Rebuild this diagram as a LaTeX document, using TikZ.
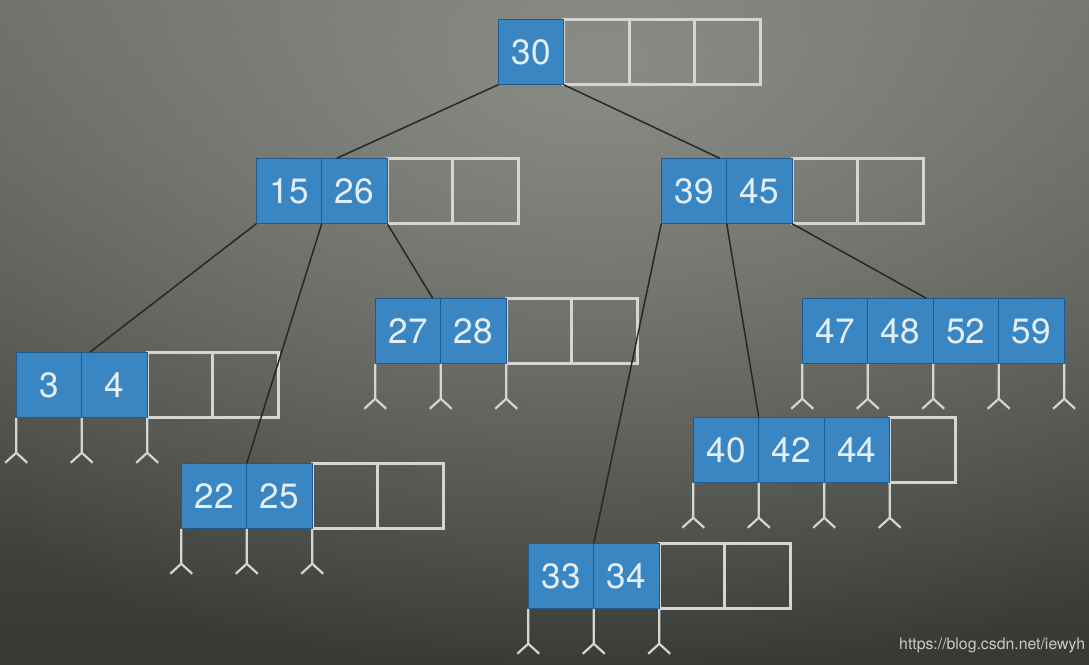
\documentclass[tikz,border=0pt]{standalone}
\usepackage{fontspec}
\setmainfont{TeX Gyre Heros}
\usetikzlibrary{positioning,calc,backgrounds,fadings}
\definecolor{keyblue}{HTML}{3A86C2}
\definecolor{keyedge}{HTML}{1E5B8C}
\definecolor{numwhite}{HTML}{E4EEF6}
\definecolor{slotgray}{HTML}{D6D6D0}
\definecolor{linkgray}{HTML}{262824}
\definecolor{bgtop}{HTML}{60635D}
\definecolor{bgbottom}{HTML}{363934}
\definecolor{glow}{HTML}{8A8C86}
\definecolor{wmgray}{HTML}{CACACA}
\tikzfading[name=glowfade, inner color=transparent!0, outer color=transparent!100]
\tikzset{
  key/.style={fill=keyblue, draw=keyedge, line width=0.7pt, minimum size=1.31cm,
    inner sep=0pt, outer sep=0pt, text=numwhite, font=\fontsize{20}{20}\selectfont},
  slot/.style={draw=slotgray, line width=1.5pt, minimum size=1.31cm, inner sep=0pt, outer sep=0pt},
  link/.style={draw=linkgray, line width=0.85pt},
  nil/.pic={\draw[slotgray, line width=1.25pt] (0,0) -- (0,35) -- (-11,45) (0,35) -- (11,45);}
}
\begin{document}
\begin{tikzpicture}[x=0.02cm, y=-0.02cm]
  \useasboundingbox (0,0) rectangle (1089,664);
  % keys
  \node[key] (r1) at (531,52) {30};
  \node[key] (a1) at (289,191) {15};
  \node[key, right=0pt of a1] (a2) {26};
  \node[key] (b1) at (694,191) {39};
  \node[key, right=0pt of b1] (b2) {45};
  \node[key] (c1) at (49,385) {3};
  \node[key, right=0pt of c1] (c2) {4};
  \node[key] (d1) at (408,331) {27};
  \node[key, right=0pt of d1] (d2) {28};
  \node[key] (e1) at (214,496) {22};
  \node[key, right=0pt of e1] (e2) {25};
  \node[key] (f1) at (835,331) {47};
  \node[key, right=0pt of f1] (f2) {48};
  \node[key, right=0pt of f2] (f3) {52};
  \node[key, right=0pt of f3] (f4) {59};
  \node[key] (g1) at (726,450) {40};
  \node[key, right=0pt of g1] (g2) {42};
  \node[key, right=0pt of g2] (g3) {44};
  \node[key] (h1) at (561,576) {33};
  \node[key, right=0pt of h1] (h2) {34};
  % background and empty slots
  \begin{scope}[on background layer]
    \fill[top color=bgtop, bottom color=bgbottom] (0,0) rectangle (1089,664);
    \begin{scope}
      \clip (0,0) rectangle (1089,664);
      \fill[glow, path fading=glowfade] (600,60) ellipse (1000 and 620);
    \end{scope}
    \foreach \s/\t in {r1/r2, r2/r3, r3/r4, a2/a3, a3/a4, b2/b3, b3/b4, c2/c3, c3/c4,
        d2/d3, d3/d4, e2/e3, e3/e4, g3/g4, h2/h3, h3/h4}
      \node[slot, right=0pt of \s] (\t) {};
  \end{scope}
  % links
  \draw[link] (r1.south west) -- ($(a2.north west)+(15,0)$);
  \draw[link] (r1.south east) -- ($(b2.north west)+(-7,0)$);
  \draw[link] (a1.south west) -- ($(c2.north west)+(8,0)$);
  \draw[link] (a2.south west) -- (e2.north west);
  \draw[link] (a2.south east) -- ($(d2.north west)+(-8,0)$);
  \draw[link] (b1.south west) -- (h2.north west);
  \draw[link] (b2.south west) -- (g2.north west);
  \draw[link] (b2.south east) -- ($(f3.north west)+(-7,0)$);
  % null pointers
  \foreach \p in {c1.south west, c2.south west, c2.south east,
      d1.south west, d2.south west, d2.south east,
      e1.south west, e2.south west, e2.south east,
      f1.south west, f2.south west, f3.south west, f4.south west, f4.south east,
      g1.south west, g2.south west, g3.south west, g3.south east,
      h1.south west, h2.south west, h2.south east}
    \pic at (\p) {nil};
  \node[anchor=base west, text=wmgray, font=\fontsize{9}{9}\selectfont] (wm) at (893,649)
    {https://blog.csdn.net/iewyh};
\end{tikzpicture}
\end{document}
